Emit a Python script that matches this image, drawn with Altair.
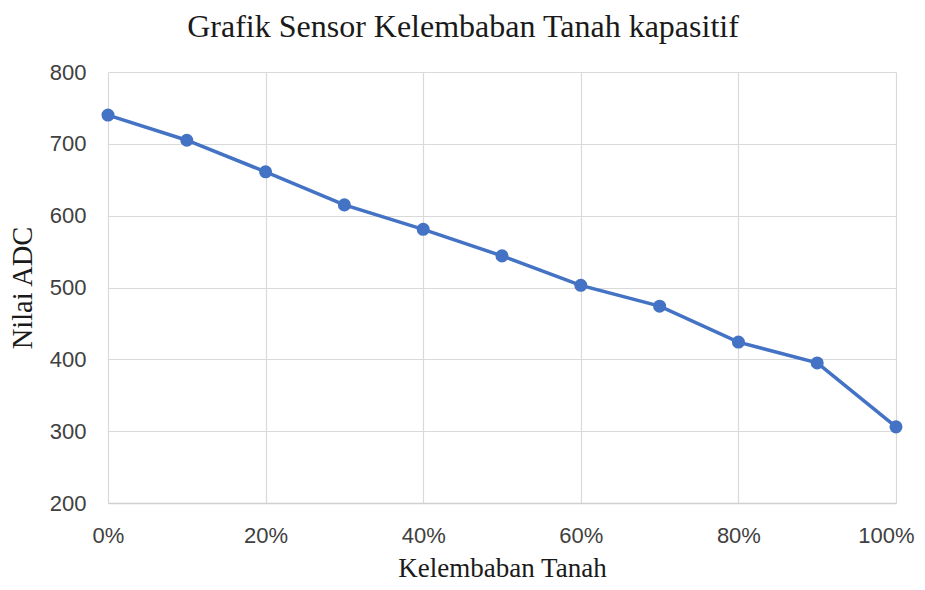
import altair as alt
import pandas as pd

moisture = [0.0, 0.1, 0.2, 0.3, 0.4, 0.5, 0.6, 0.7, 0.8, 0.9, 1.0]
adc = [740, 705, 661, 615, 581, 544, 503, 474, 424, 395, 306]

df = pd.DataFrame({"Kelembaban": moisture, "ADC": adc})

color = "#4472C4"

base = alt.Chart(df).encode(
    x=alt.X(
        "Kelembaban:Q",
        scale=alt.Scale(domain=[0, 1], nice=False),
        axis=alt.Axis(
            title="Kelembaban Tanah",
            format=".0%",
            values=[0, 0.2, 0.4, 0.6, 0.8, 1.0],
            grid=True,
            gridColor="#d9d9d9",
            gridWidth=1.2,
            domain=True,
            domainColor="#d0d0d0",
            domainWidth=1.5,
            ticks=False,
            labelFlush=False,
            labelOffset=alt.condition("datum.value >= 1", alt.value(-10), alt.value(0)),
            labelFont="Liberation Sans",
            labelFontSize=22,
            labelColor="#404040",
            labelPadding=22,
            titleFont="Liberation Serif",
            titleFontSize=27,
            titleFontWeight="normal",
            titleColor="#1a1a1a",
            titlePadding=9,
        ),
    ),
    y=alt.Y(
        "ADC:Q",
        scale=alt.Scale(domain=[200, 800], nice=False),
        axis=alt.Axis(
            title="Nilai ADC",
            values=[200, 300, 400, 500, 600, 700, 800],
            grid=True,
            gridColor="#d9d9d9",
            gridWidth=1.2,
            domain=False,
            ticks=False,
            labelFlush=False,
            labelFont="Liberation Sans",
            labelFontSize=22,
            labelColor="#404040",
            labelPadding=22,
            titleFont="Liberation Serif",
            titleFontSize=28.5,
            titleFontWeight="normal",
            titleColor="#1a1a1a",
            titlePadding=12,
        ),
    ),
)

line = base.mark_line(color=color, strokeWidth=3.5)
points = base.mark_point(color=color, filled=True, opacity=1, size=170)

chart = (
    (line + points)
    .properties(
        width=788,
        height=431,
        title=alt.TitleParams(
            "Grafik Sensor Kelembaban Tanah kapasitif",
            font="Liberation Serif",
            fontSize=32,
            fontWeight="normal",
            color="#1a1a1a",
            anchor="middle",
            dx=-39,
            offset=17,
        ),
        padding={"left": 100, "top": 64, "right": 21, "bottom": 79},
        autosize=alt.AutoSizeParams(type="none"),
        background="white",
    )
    .configure_view(stroke=None)
)

chart.save("out.html", embed_options={"renderer": "svg", "actions": False})
